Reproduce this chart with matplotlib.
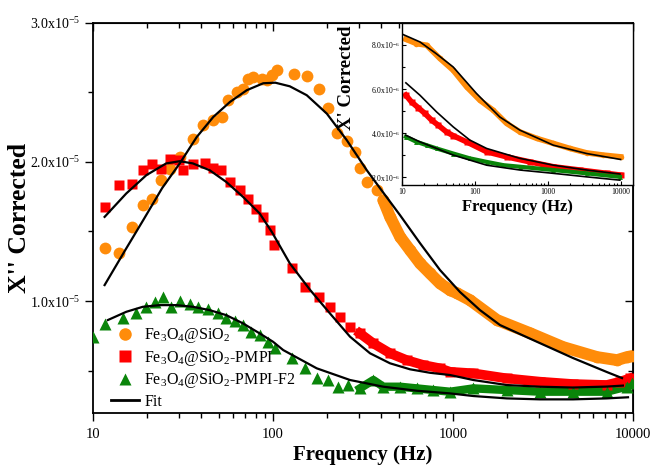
import matplotlib
matplotlib.use('Agg')
import matplotlib.pyplot as plt
from matplotlib.ticker import FixedLocator, FuncFormatter, NullFormatter, LogLocator
from matplotlib.lines import Line2D

plt.rcParams['font.family'] = ['Liberation Serif', 'DejaVu Serif']
plt.rcParams['mathtext.default'] = 'regular'

# ---- main plot data (x in Hz, X'' in units of 1e-5) ----
f_or = [11.6, 13.9, 16.5, 18.9, 21.3, 24.0, 26.8, 30.6, 36.1, 41.0, 46.6, 51.9, 56.5, 62.8,
        68.4, 72.9, 77.8, 86.5, 92.3, 98.4, 105, 130, 155, 180, 203, 228, 257, 287, 304, 332,
        377, 410, 447, 508, 577, 656, 745, 847, 962, 1051, 1242, 1755, 2677, 4083, 6310,
        8147, 9268, 9870]
v_or = [1.385, 1.347, 1.533, 1.689, 1.736, 1.872, 1.948, 2.034, 2.168, 2.263, 2.299, 2.323,
        2.443, 2.503, 2.527, 2.599, 2.610, 2.599, 2.587, 2.622, 2.663, 2.633, 2.615, 2.525,
        2.389, 2.210, 2.149, 2.070, 1.953, 1.856, 1.797, 1.725, 1.605, 1.462, 1.366, 1.271,
        1.199, 1.127, 1.079, 1.057, 1.007, 0.864, 0.770, 0.670, 0.598, 0.576, 0.598, 0.605]

f_rd = [11.6, 13.9, 16.5, 18.9, 21.3, 24.0, 26.7, 30.0, 31.6, 35.9, 41.8, 46.4, 51.7, 57.4,
        65.3, 72.6, 80.7, 87.9, 95.9, 101, 127, 151, 179, 207, 236, 268, 304, 361, 447, 553,
        684, 847, 962, 1297, 1986, 3041, 4642, 7145, 8472, 9620]
v_rd = [1.673, 1.833, 1.840, 1.940, 1.983, 1.948, 2.024, 2.017, 1.945, 1.983, 1.989, 1.953,
        1.940, 1.856, 1.797, 1.737, 1.665, 1.605, 1.510, 1.402, 1.235, 1.103, 1.031, 0.959,
        0.887, 0.816, 0.768, 0.696, 0.625, 0.576, 0.541, 0.517, 0.492, 0.481, 0.445, 0.421,
        0.404, 0.397, 0.421, 0.445]

f_gr = [10.0, 11.6, 14.7, 17.3, 19.8, 22.0, 24.5, 27.2, 30.3, 34.4, 38.3, 43.5, 49.5, 55.0,
        61.2, 68.1, 75.7, 84.3, 93.8, 103, 127, 151, 175, 203, 230, 262, 304, 361, 410, 508,
        629, 778, 962, 1297, 1986, 3041, 4642, 7145, 9226, 9870]
v_gr = [0.742, 0.835, 0.876, 0.912, 0.959, 0.995, 1.027, 0.959, 1.002, 0.978, 0.959, 0.940,
        0.912, 0.876, 0.859, 0.828, 0.780, 0.756, 0.708, 0.660, 0.589, 0.517, 0.445, 0.433,
        0.385, 0.397, 0.373, 0.433, 0.385, 0.385, 0.373, 0.361, 0.349, 0.373, 0.361, 0.349,
        0.349, 0.349, 0.385, 0.409]

fit_or_f = [11.6, 15.1, 19.0, 24.2, 30.4, 37.7, 46.6, 57.7, 71.5, 88.3, 103, 124, 154, 199,
            257, 332, 393, 508, 656, 847, 1094, 1413, 1824, 3041, 4642, 7170, 8690]
fit_or_v = [1.115, 1.366, 1.581, 1.811, 1.991, 2.179, 2.323, 2.431, 2.515, 2.565, 2.569,
            2.543, 2.479, 2.347, 2.156, 1.940, 1.811, 1.617, 1.416, 1.223, 1.065, 0.935,
            0.828, 0.698, 0.591, 0.490, 0.447]

fit_rd_f = [11.6, 15.3, 19.8, 25.5, 30.3, 35.9, 44.5, 55.0, 68.1, 84.3, 98.7, 124, 161, 207,
            268, 346, 447, 577, 745, 962, 1297, 1986, 3041, 4642, 7145, 8790]
fit_rd_v = [1.605, 1.773, 1.905, 1.989, 2.005, 1.989, 1.940, 1.856, 1.749, 1.630, 1.495,
            1.271, 1.079, 0.912, 0.744, 0.625, 0.553, 0.510, 0.485, 0.469, 0.433, 0.397,
            0.385, 0.379, 0.386, 0.393]

fit_gr_f = [12.1, 15.3, 18.9, 23.5, 29.1, 35.9, 44.5, 55.0, 68.1, 84.3, 100, 114, 175, 268,
            410, 629, 962, 1297, 1986, 3041, 4642, 7145, 9380]
fit_gr_v = [0.864, 0.923, 0.959, 0.971, 0.971, 0.959, 0.935, 0.899, 0.840, 0.768, 0.708,
            0.648, 0.517, 0.433, 0.385, 0.356, 0.337, 0.318, 0.301, 0.294, 0.294, 0.301, 0.309]

# ---- inset data (X' in units of 1e-6) ----
fi_or = [11.3, 15.8, 21.7, 33.0, 50.4, 76.9, 117, 178, 272, 415, 704, 1191, 2018, 3420, 5781, 10000]
vi_or = [8.26, 8.06, 7.99, 7.39, 6.85, 6.10, 5.49, 5.04, 4.44, 4.05, 3.76, 3.53, 3.30, 3.10, 3.00, 2.92]
fi_or_fit = [10.1, 17.6, 29.1, 50.4, 105, 220, 415, 1191, 3420, 10000]
vi_or_fit = [8.49, 8.14, 7.62, 7.00, 5.80, 4.73, 4.13, 3.45, 3.07, 2.80]

fi_rd = [11.3, 13.5, 16.6, 20.6, 25.4, 31.3, 40.8, 50.4, 76.9, 145, 272, 569, 1191, 2766, 6442, 10000]
vi_rd = [5.72, 5.41, 5.16, 4.89, 4.59, 4.36, 4.05, 3.88, 3.60, 3.15, 2.92, 2.69, 2.47, 2.32, 2.17, 2.09]
fi_rd_fit = [11.3, 17.6, 29.8, 50.4, 85.3, 145, 415, 1191, 3420, 9780]
vi_rd_fit = [6.28, 5.72, 4.96, 4.28, 3.68, 3.30, 2.85, 2.54, 2.32, 2.14]

fi_gr = [11.3, 15.8, 21.7, 29.8, 50.4, 85.3, 145, 247, 415, 1191, 3420, 9780]
vi_gr = [3.83, 3.60, 3.45, 3.30, 3.07, 2.85, 2.69, 2.54, 2.47, 2.32, 2.17, 2.01]
fi_gr_fit = [11.3, 17.6, 50.4, 145, 415, 1191, 3420, 9780]
vi_gr_fit = [3.90, 3.60, 3.00, 2.54, 2.32, 2.17, 2.01, 1.86]

c_or = '#ff8c0a'
c_rd = '#ff0000'
c_gr = '#0a850a'

labels = ['Fe$_3$O$_4$@SiO$_2$', 'Fe$_3$O$_4$@SiO$_2$-PMPI', 'Fe$_3$O$_4$@SiO$_2$-PMPI-F2', 'Fit']

fig = plt.figure(figsize=(6.54, 4.68), dpi=100)
ax = fig.add_axes([0.1422, 0.1175, 0.8257, 0.834])

def sc(v, k):
    return [x * k for x in v]

# dense high-frequency parts drawn as bands
ax.plot([f for f in f_or if f > 400], sc([v for f, v in zip(f_or, v_or) if f > 400], 1e-5),
        '-', color=c_or, lw=8.5, solid_capstyle='round', zorder=2)
ax.plot([f for f in f_rd if f > 300], sc([v for f, v in zip(f_rd, v_rd) if f > 300], 1e-5),
        '-', color=c_rd, lw=7, zorder=2)
ax.plot([f for f in f_gr if f > 300], sc([v for f, v in zip(f_gr, v_gr) if f > 300], 1e-5),
        '-', color=c_gr, lw=6, zorder=2)

ax.plot(f_or, sc(v_or, 1e-5), 'o', color=c_or, ms=8.5, mec='none', zorder=3)
ax.plot(f_rd, sc(v_rd, 1e-5), 's', color=c_rd, ms=7.5, mec='none', zorder=3)
ax.plot(f_gr, sc(v_gr, 1e-5), '^', color=c_gr, ms=8.5, mec='none', zorder=3)
for ff, vv in [(fit_or_f, fit_or_v), (fit_rd_f, fit_rd_v), (fit_gr_f, fit_gr_v)]:
    ax.plot(ff, sc(vv, 1e-5), '-', color='black', lw=1.6, zorder=4)

ax.set_xscale('log')
ax.set_xlim(10, 10000)
ax.set_ylim(0.196e-5, 3.0e-5)
ax.xaxis.set_major_locator(FixedLocator([10, 100, 1000, 10000]))
ax.xaxis.set_major_formatter(FuncFormatter(lambda x, p: '%d' % round(x)))
ax.xaxis.set_minor_locator(LogLocator(base=10, subs=range(2, 10)))
ax.xaxis.set_minor_formatter(NullFormatter())
ax.yaxis.set_major_locator(FixedLocator([1e-5, 2e-5, 3e-5]))
ax.yaxis.set_minor_locator(FixedLocator([0.5e-5, 1.5e-5, 2.5e-5]))
ax.yaxis.set_major_formatter(FuncFormatter(lambda y, p: '%.1fx10$^{-5}$' % (y * 1e5)))
ax.tick_params(which='both', direction='out', labelsize=10, width=1)
ax.tick_params(which='major', length=6)
ax.tick_params(which='minor', length=3.5)
ax.tick_params(axis='x', pad=5, labelsize=10.5)
# mirrored inward ticks on top and right
axt = ax.secondary_xaxis('top')
axt.set_xticks([10, 100, 1000, 10000])
axt.xaxis.set_minor_locator(LogLocator(base=10, subs=range(2, 10)))
axt.tick_params(which='both', direction='in', labeltop=False, width=1)
axt.tick_params(which='major', length=6)
axt.tick_params(which='minor', length=3.5)
axr = ax.secondary_yaxis('right')
axr.set_yticks([1e-5, 2e-5, 3e-5])
axr.yaxis.set_minor_locator(FixedLocator([0.5e-5, 1.5e-5, 2.5e-5]))
axr.tick_params(which='both', direction='in', labelright=False, width=1)
axr.tick_params(which='major', length=6)
axr.tick_params(which='minor', length=3.5)
for sp in ax.spines.values():
    sp.set_linewidth(1.3)

ax.set_xlabel('Frequency (Hz)', fontsize=15, fontweight='bold', labelpad=3)
ax.set_ylabel("X'' Corrected", fontsize=18.5, fontweight='bold')
ax.yaxis.set_label_coords(-0.114, 0.5)

handles = [Line2D([], [], marker='o', ls='none', color=c_or, ms=9, mec='none'),
           Line2D([], [], marker='s', ls='none', color=c_rd, ms=8, mec='none'),
           Line2D([], [], marker='^', ls='none', color=c_gr, ms=9, mec='none'),
           Line2D([], [], color='black', lw=2)]
ax.legend(handles, labels, loc='lower left', bbox_to_anchor=(0.012, -0.02), frameon=False,
          fontsize=11.5, handlelength=1.8, handletextpad=0.3, labelspacing=0.22,
          borderaxespad=0.3)

# ---- inset ----
ins = fig.add_axes([0.6147, 0.6047, 0.3532, 0.3462])
ins.plot(fi_or, sc(vi_or, 1e-6), 'o-', color=c_or, ms=4, lw=4, mec='none')
ins.plot(fi_rd, sc(vi_rd, 1e-6), 's-', color=c_rd, ms=4, lw=4, mec='none')
ins.plot(fi_gr, sc(vi_gr, 1e-6), '^-', color=c_gr, ms=3.5, lw=3, mec='none')
for ff, vv in [(fi_or_fit, vi_or_fit), (fi_rd_fit, vi_rd_fit), (fi_gr_fit, vi_gr_fit)]:
    ins.plot(ff, sc(vv, 1e-6), '-', color='black', lw=1.2)
ins.set_xscale('log')
ins.set_xlim(10, 14800)
ins.set_ylim(1.64e-6, 9.0e-6)
ins.xaxis.set_major_locator(FixedLocator([10, 100, 1000, 10000]))
ins.xaxis.set_major_formatter(FuncFormatter(lambda x, p: '%d' % round(x)))
ins.xaxis.set_minor_locator(LogLocator(base=10, subs=range(2, 10)))
ins.xaxis.set_minor_formatter(NullFormatter())
ins.yaxis.set_major_locator(FixedLocator([2e-6, 4e-6, 6e-6, 8e-6]))
ins.yaxis.set_minor_locator(FixedLocator([3e-6, 5e-6, 7e-6]))
ins.yaxis.set_major_formatter(FuncFormatter(lambda y, p: '%.1fx10$^{-6}$' % (y * 1e6)))
ins.tick_params(which='both', direction='in', labelsize=5.5, width=0.8, pad=2)
ins.tick_params(which='major', length=3)
ins.tick_params(which='minor', length=1.8)
for sp in ins.spines.values():
    sp.set_linewidth(1.0)
ins.set_xlabel('Frequency (Hz)', fontsize=12, fontweight='bold', labelpad=2)
ins.set_ylabel("X' Corrected", fontsize=13.5, fontweight='bold')
ins.yaxis.set_label_coords(-0.203, 0.66)

fig.savefig('out.png', dpi=100)
